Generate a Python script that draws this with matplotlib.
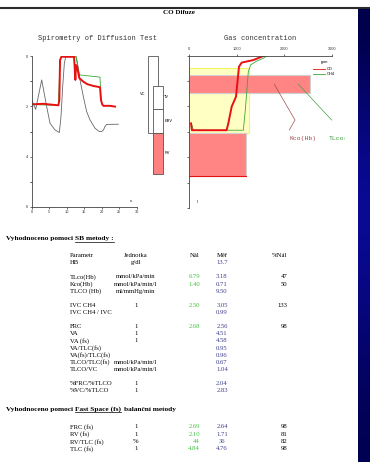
import numpy as np
import matplotlib
matplotlib.use("Agg")
import matplotlib.pyplot as plt
from matplotlib.lines import Line2D
from matplotlib.patches import Rectangle
from matplotlib.colors import LinearSegmentedColormap
from matplotlib.transforms import Bbox, TransformedBbox

# --- spirometrie (cas s, objem l) ---
gray_t = [0, 1.14, 2.86, 4.28, 5.23, 6.66, 7.9, 8.37, 8.85, 9.33, 9.71, 12.66, 13.04, 13.8,
          14.75, 15.7, 16.66, 18.09, 19.3, 20.0, 20.5, 20.94, 21.4, 24.76]
gray_v = [1.75, 2.12, 0.95, 2.01, 2.67, 2.94, 3.04, 2.41, 1.22, 0.29, 0.03, 0.03, 0.23, 0.95,
          1.61, 2.21, 2.54, 2.87, 3.0, 3.0, 2.94, 2.8, 2.72, 2.71]
red_t = [0, 3.33, 7.62, 7.9, 8.1, 8.5, 12.08, 12.27, 12.47, 12.66, 12.95, 13.23, 13.61, 14.75,
         15.9, 17.62, 19.52, 19.8, 20.09, 20.47, 22.38, 23.8]
red_v = [1.92, 1.9, 1.96, 1.75, 0.16, 0.03, 0.03, 0.42, 0.95, 0.36, 0.42, 0.62, 0.88, 1.02,
         1.12, 1.19, 1.24, 1.75, 1.9, 1.98, 1.98, 2.01]
green_t = [0, 7.62, 8.1, 8.5, 12.66, 13.04, 13.61, 19.52, 19.8, 20.09]
green_v = [1.93, 1.96, 0.16, 0.0, 0.0, 0.36, 0.75, 0.84, 1.75, 1.93]

# --- objemy plic (l) ---
vc_top, tv_top, erv_top, rv_top, rv_bot = 0.0, 1.19, 2.1, 3.05, 4.7

# --- koncentrace plynu (ppm, l) ---
co_ppm = [36, 55, 785, 822, 893, 984, 1012, 1047, 1103, 1348, 1559]
co_l = [2.67, 2.94, 2.94, 2.67, 2.01, 1.62, 1.09, 0.44, 0.28, 0.18, 0.02]
ch4_ppm = [57, 85, 1138, 1173, 1208, 1243, 1292, 1418, 1559, 1629]
ch4_l = [2.74, 2.94, 2.94, 2.28, 1.49, 0.64, 0.37, 0.22, 0.11, 0.02]
yellow_box = (0, 1260, 0.48, 3.05)
red_box1 = (0, 2540, 0.77, 1.49)
red_box2 = (0, 1190, 3.05, 4.76)

# --- tabulky ---
head = ["Parametr", "Jednotka", "Nál", "Měř", "%Nál"]
sb_par = ["HB", "", "TLco(Hb)", "Kco(Hb)", "TLCO (Hb)", "", "IVC CH4", "IVC CH4 / IVC", "",
          "FRC", "VA", "VA (fs)", "VA/TLC(fs)", "VA(fs)/TLC(fs)", "TLCO/TLC(fs)", "TLCO/VC", "",
          "%FRC/%TLCO", "%VC/%TLCO"]
sb_unit = ["g/dl", "", "mmol/kPa/min", "mmol/kPa/min/l", "ml/mmHg/min", "", "1", "", "",
           "1", "1", "1", "", "", "mmol/kPa/min/l", "mmol/kPa/min/l", "", "1", "1"]
sb_nal = ["", "", "6.79", "1.40", "", "", "2.50", "", "", "2.68", "", "", "", "", "", "", "", "", ""]
sb_mer = ["13.7", "", "3.18", "0.71", "9.50", "", "3.05", "0.99", "", "2.56", "4.51", "4.58",
          "0.95", "0.96", "0.67", "1.04", "", "2.04", "2.83"]
sb_pct = ["", "", "47", "50", "", "", "133", "", "", "98", "", "", "", "", "", "", "", "", ""]
fs_par = ["FRC (fs)", "RV (fs)", "RV/TLC (fs)", "TLC (fs)"]
fs_unit = ["1", "1", "%", "1"]
fs_nal = ["2.69", "2.10", "44", "4.84"]
fs_mer = ["2.64", "1.71", "36", "4.76"]
fs_pct = ["98", "81", "82", "98"]

W, H = 370, 462
fig = plt.figure(figsize=(W / 100, H / 100), dpi=100)
fig.patch.set_facecolor("white")


def fx(x):
    return x / W


def fy(y):
    return 1 - y / H


serif = "Liberation Serif"
mono = "Liberation Mono"
sans = "Liberation Sans"
green_c = "#3fc23f"
blue_c = "#3c3c8c"

# horni linka a nadpis
fig.add_artist(Line2D([0, 1], [fy(8.2), fy(8.2)], lw=1.5, color="#2a2a2a", zorder=6))
fig.add_artist(Rectangle((0, fy(7.5)), 1, 7.5 / H, transform=fig.transFigure,
                         facecolor="white", edgecolor="none", zorder=5))
fig.text(fx(179), fy(12.0), "CO Difuze", fontsize=5, fontweight="bold", family=serif,
         ha="center", va="center", zorder=4)

# --- levy graf ---
ax1 = fig.add_axes([fx(31.7), fy(207), 105 / W, 151 / H])
ax1.plot(gray_t, gray_v, color="#666666", lw=0.6)
ax1.plot(green_t, green_v, color="#3aa83a", lw=0.6)
ax1.plot(red_t, red_v, color="#e81010", lw=1.4)
ax1.set_xlim(0, 30)
ax1.set_ylim(6, 0)
ax1.set_xticks(range(0, 31, 5))
ax1.set_yticks([0, 2, 4, 6])
ax1.set_yticks([1, 3, 5], minor=True)
for s in ["top", "right"]:
    ax1.spines[s].set_visible(False)
for s in ["left", "bottom"]:
    ax1.spines[s].set_linewidth(0.6)
    ax1.spines[s].set_color("#444444")
ax1.tick_params(labelsize=2.8, length=1.5, width=0.5, pad=1, colors="#333333")
ax1.tick_params(which="minor", length=1.2, width=0.5)
ax1.text(28.3, 5.76, "s", fontsize=2.8, family=sans, ha="center", va="center")
for lab in ax1.get_xticklabels() + ax1.get_yticklabels():
    lab.set_family(sans)
fig.text(fx(97), fy(39), "Spirometry of Diffusion Test", fontsize=5, family=mono,
         ha="center", va="center", color="#333333")

# objemy plic
ax2 = fig.add_axes([fx(138), fy(207), 34 / W, 151 / H])
ax2.set_xlim(138, 172)
ax2.set_ylim(6, 0)
ax2.axis("off")
ec = "#555555"
ax2.add_patch(Rectangle((147.7, vc_top), 10.6, rv_top - vc_top, facecolor="white", edgecolor=ec, lw=0.6))
ax2.add_patch(Rectangle((152.7, tv_top), 10.6, erv_top - tv_top, facecolor="white", edgecolor=ec, lw=0.6))
ax2.add_patch(Rectangle((152.7, erv_top), 10.6, rv_top - erv_top, facecolor="white", edgecolor=ec, lw=0.6))
ax2.add_patch(Rectangle((152.7, rv_top), 10.6, rv_bot - rv_top, facecolor="#ff8080", edgecolor=ec, lw=0.6))
ax2.text(140, 1.52, "VC", fontsize=2.8, family=sans, va="center")
ax2.text(164.3, 1.62, "TV", fontsize=2.8, family=sans, va="center")
ax2.text(164.3, 2.57, "ERV", fontsize=2.8, family=sans, va="center")
ax2.text(164.3, 3.87, "RV", fontsize=2.8, family=sans, va="center")

# --- pravy graf ---
ax3 = fig.add_axes([fx(189.3), fy(208), 142.4 / W, 152.5 / H])
x0, x1, y0, y1 = yellow_box
ax3.add_patch(Rectangle((x0, y0), x1 - x0, y1 - y0, facecolor="#ffffc4", edgecolor="#f4f460", lw=0.8))
x0, x1, y0, y1 = red_box1
ax3.add_patch(Rectangle((x0, y0), x1 - x0, y1 - y0, facecolor="#ff8484", edgecolor="#d0d0d0", lw=0.8))
x0, x1, y0, y1 = red_box2
ax3.add_patch(Rectangle((x0, y0), x1 - x0, y1 - y0, facecolor="#ff8484", edgecolor="#d0d0d0", lw=0.8))
ax3.plot([x0, x1], [y1, y1], color="#e81010", lw=0.8)
ax3.plot(ch4_ppm, ch4_l, color="#3aa83a", lw=0.6, label="CH4")
ax3.plot(co_ppm, co_l, color="#e81010", lw=1.4, label="CO")
ax3.set_xlim(0, 3000)
ax3.set_ylim(6, 0)
ax3.xaxis.tick_top()
ax3.set_xticks([0, 1000, 2000, 3000])
ax3.set_yticks(range(0, 7))
ax3.set_yticklabels([])
for s in ["bottom", "right"]:
    ax3.spines[s].set_visible(False)
for s in ["left", "top"]:
    ax3.spines[s].set_linewidth(0.6)
    ax3.spines[s].set_color("#444444")
ax3.tick_params(labelsize=2.8, length=1.5, width=0.5, pad=1.5, colors="#333333")
for lab in ax3.get_xticklabels():
    lab.set_family(sans)
ax3.text(2857, 0.27, "ppm", fontsize=2.8, family=sans, ha="center", va="center")
ax3.text(156, 5.76, "l", fontsize=2.8, family=sans, ha="center", va="center")
handles = [Line2D([], [], color="#e81010", lw=0.6), Line2D([], [], color="#3aa83a", lw=0.6)]
ax3.legend(handles, ["CO", "CH4"], loc="upper left", bbox_to_anchor=(0.87, 0.925),
           frameon=False, prop={"family": sans, "size": 2.8}, handlelength=3,
           labelspacing=0.3, handletextpad=0.6, borderaxespad=0, borderpad=0)
ax3.plot([1790, 2227, 2107], [1.13, 2.54, 2.93], color="#a05050", lw=0.5, clip_on=False)
ax3.plot([2296, 3000], [1.13, 2.54], color="#40a040", lw=0.5, clip_on=False)
ax3.text(2110, 3.27, "Kco(Hb)", fontsize=4.6, family=mono, color="#a04848", va="center", clip_on=False)
tl = ax3.text(2943, 3.27, "TLco(Hb)", fontsize=4.6, family=mono, color="#40a040", va="center")
tl.set_clip_on(True)
tl.set_clip_box(TransformedBbox(Bbox([[0, 0], [fx(345), 1]]), fig.transFigure))
fig.text(fx(260), fy(39), "Gas concentration", fontsize=5, family=mono,
         ha="center", va="center", color="#333333")

# modry pruh vpravo
axb = fig.add_axes([fx(358.3), 0, 11.7 / W, fy(9)])
grad = np.array([0.0, 0.35, 0.7, 0.85, 0.75, 0.5, 0.25, 0.1]).reshape(-1, 1)
cmap = LinearSegmentedColormap.from_list("b", ["#00004a", "#0a0a96"])
axb.imshow(grad, cmap=cmap, aspect="auto", interpolation="bicubic", extent=(0, 1, 0, 1))
axb.axis("off")
axb.set_zorder(10)

# --- text tabulek ---
renderer = fig.canvas.get_renderer()


def heading(x, y, parts):
    # parts: (text, underline)
    for txt, ul in parts:
        t = fig.text(fx(x), fy(y), txt, fontsize=5.3, fontweight="bold", family=serif,
                     ha="left", va="center")
        bb = t.get_window_extent(renderer)
        if ul:
            yl = bb.y0 - 0.6
            fig.add_artist(Line2D([bb.x0 / W, bb.x1 / W], [yl / H, yl / H], lw=0.5, color="black"))
        x = bb.x1 + 2.4


fs = 4.8
heading(6, 239, [("Vyhodnoceno pomoci", False), ("SB metody :", True)])


def row(y, par, unit, nal, mer, pct):
    fig.text(fx(70), fy(y), par, fontsize=fs, family=serif, ha="left", va="center")
    fig.text(fx(136), fy(y), unit, fontsize=fs, family=serif, ha="center", va="center")
    fig.text(fx(200), fy(y), nal, fontsize=fs, family=serif, ha="right", va="center", color=green_c)
    fig.text(fx(222), fy(y), mer, fontsize=fs, family=serif, ha="center", va="center", color=blue_c)
    fig.text(fx(287.3), fy(y), pct, fontsize=fs, family=serif, ha="right", va="center")


y_start, dy = 255.7, 7.1
fig.text(fx(70), fy(y_start), head[0], fontsize=fs, family=serif, va="center")
fig.text(fx(136), fy(y_start), head[1], fontsize=fs, family=serif, ha="center", va="center")
fig.text(fx(200), fy(y_start), head[2], fontsize=fs, family=serif, ha="right", va="center")
fig.text(fx(222), fy(y_start), head[3], fontsize=fs, family=serif, ha="center", va="center")
fig.text(fx(287.3), fy(y_start), head[4], fontsize=fs, family=serif, ha="right", va="center")
for i in range(len(sb_par)):
    row(y_start + (i + 1) * dy, sb_par[i], sb_unit[i], sb_nal[i], sb_mer[i], sb_pct[i])

heading(6, 409, [("Vyhodnoceno pomoci", False), ("Fast Space (fs)", True), ("balanční metody", False)])
for i in range(len(fs_par)):
    row(427 + i * 7.3, fs_par[i], fs_unit[i], fs_nal[i], fs_mer[i], fs_pct[i])

fig.savefig("out.png", dpi=100)
